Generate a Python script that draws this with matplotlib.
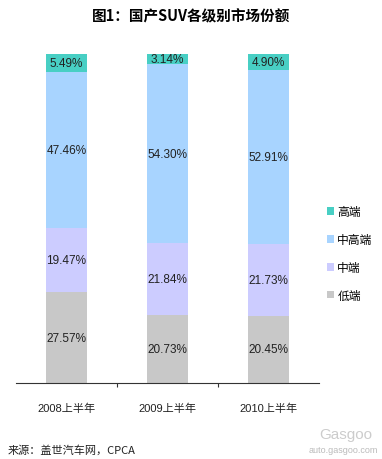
import numpy as np
import matplotlib
matplotlib.use("Agg")
import matplotlib.pyplot as plt

plt.rcParams['font.family'] = ['Liberation Sans', 'Noto Sans CJK SC', 'DejaVu Sans']

# --- data ---
years = ["2008上半年", "2009上半年", "2010上半年"]
low = [27.57, 20.73, 20.45]
mid = [19.47, 21.84, 21.73]
mid_high = [47.46, 54.30, 52.91]
high = [5.49, 3.14, 4.90]
series_names = ["低端", "中端", "中高端", "高端"]
colors = ["#c8c8c8", "#ccccff", "#a8d4ff", "#48cfc4"]

fig = plt.figure(figsize=(3.82, 4.6), dpi=100)
ax = fig.add_axes([16 / 382, 76 / 460, 303 / 382, 329 / 460])

x = np.arange(len(years))
bottom = np.zeros(len(years))
handles = []
for name, vals, c in zip(series_names, [low, mid, mid_high, high], colors):
    vals = np.array(vals)
    h = ax.bar(x, vals, width=0.41, bottom=bottom, color=c, edgecolor='none', label=name)
    handles.append(h)
    for xi, b, v in zip(x, bottom, vals):
        ax.text(xi, b + v / 2, f"{v:.2f}%", ha='center', va='center', fontsize=8.5, color='#222222')
    bottom += vals

ax.set_xlim(-0.5, 2.5)
ax.set_ylim(0, 100)
for s in ['left', 'top', 'right']:
    ax.spines[s].set_visible(False)
ax.spines['bottom'].set_color('#333333')
ax.set_yticks([])
ax.set_xticks([0.5, 1.5])
ax.set_xticklabels([])
ax.tick_params(axis='x', length=3, color='#333333')
for xi, lab in zip(x, years):
    ax.text(xi, -7.5, lab, ha='center', va='center', fontsize=8, color='#222222')

leg = fig.legend(handles[::-1], series_names[::-1], loc='center left',
                 bbox_to_anchor=(316 / 382, 1 - 255 / 460), frameon=False,
                 fontsize=8.5, handlelength=0.6, handleheight=0.6,
                 handletextpad=0.3, labelspacing=1.35)

fig.text(0.5, 1 - 16 / 460, "图1：国产SUV各级别市场份额", ha='center', va='center',
         fontsize=10.5, fontweight='bold', family=['Noto Sans CJK SC'])
fig.text(8 / 382, 1 - 450 / 460, "来源：盖世汽车网，CPCA", ha='left', va='center',
         fontsize=8, color='#222222', family=['Noto Sans CJK SC'])
fig.text(372 / 382, 1 - 435 / 460, "Gasgoo", ha='right', va='center',
         fontsize=11, color='#cccccc')
fig.text(378 / 382, 1 - 451 / 460, "auto.gasgoo.com", ha='right', va='center',
         fontsize=6.5, color='#bbbbbb')

fig.savefig("out.png", dpi=100)
